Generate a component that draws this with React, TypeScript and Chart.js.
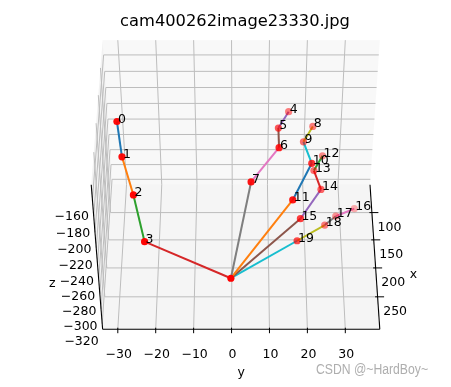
import React, { useEffect, useRef } from "react";
import { Chart, registerables } from "chart.js";

Chart.register(...registerables);

// ---------- data ----------
const TITLE = "cam400262image23330.jpg";
const WATERMARK = "CSDN @~HardBoy~";

// 21 hand keypoints (index 20 = wrist)
const kpX = [158.6, 189.3, 225.6, 267.7, 77.3, 116.2, 165.5, 206.5, 90.6, 112.6, 171.3, 219.1, 109.4, 138.5, 163.2, 212.5, 134.4, 156.7, 180.0, 224.5, 302.3];
const kpY = [-29.5, -28.2, -25.2, -22.3, 15.3, 12.4, 12.4, 5.1, 21.8, 19.2, 21.0, 15.9, 24.5, 22.0, 23.8, 18.1, 33.5, 28.2, 25.0, 17.3, -0.1];
const kpZ = [-168.2, -190.3, -211.9, -239.9, -210.6, -204.9, -195.5, -209.4, -220.2, -224.7, -211.0, -222.9, -244.9, -243.4, -250.1, -251.9, -296.6, -290.2, -284.6, -271.7, -260.4];
const kpLabels = ["0", "1", "2", "3", "4", "5", "6", "7", "8", "9", "10", "11", "12", "13", "14", "15", "16", "17", "18", "19"];

const bones = [
  [0, 1], [1, 2], [2, 3], [3, 20],
  [4, 5], [5, 6], [6, 7], [7, 20],
  [8, 9], [9, 10], [10, 11], [11, 20],
  [12, 13], [13, 14], [14, 15], [15, 20],
  [16, 17], [17, 18], [18, 19], [19, 20],
];
const tab10 = ["#1f77b4", "#ff7f0e", "#2ca02c", "#d62728", "#9467bd", "#8c564b", "#e377c2", "#7f7f7f", "#bcbd22", "#17becf"];

const xTicks = [100, 150, 200, 250];
const yTicks = [-30, -20, -10, 0, 10, 20, 30];
const zTicks = [-320, -300, -280, -260, -240, -220, -200, -180, -160];

const xLim = [47.4, 304.4];
const yLim = [-34.0, 39.1];
const zLim = [-327.4, -142.3];

// ---------- view (camera) ----------
const W = 451;
const H = 387;
const ELEV = (45 * Math.PI) / 180;
const BOX = [1, 1.352, 1];
const DIST = 18.6;
const FOCAL = 1941;
const CX = 241.5;
const CY = 184.5;

function project(x: number, y: number, z: number) {
  const X = ((x - (xLim[0] + xLim[1]) / 2) / ((xLim[1] - xLim[0]) / 2)) * BOX[0];
  const Y = ((y - (yLim[0] + yLim[1]) / 2) / ((yLim[1] - yLim[0]) / 2)) * BOX[1];
  const Z = ((z - (zLim[0] + zLim[1]) / 2) / ((zLim[1] - zLim[0]) / 2)) * BOX[2];
  const ce = Math.cos(ELEV);
  const se = Math.sin(ELEV);
  const depth = DIST - (X * ce + Z * se);
  const up = -X * se + Z * ce;
  return { u: CX + (FOCAL * Y) / depth, v: CY - (FOCAL * up) / depth, d: depth };
}

const FONT = "'DejaVu Sans', 'Liberation Sans', sans-serif";

const box3dPlugin = {
  id: "box3d",
  beforeDatasetsDraw(chart: any) {
    const ctx = chart.ctx as CanvasRenderingContext2D;
    const sx = chart.scales.x;
    const sy = chart.scales.y;
    const P = (x: number, y: number, z: number) => {
      const p = project(x, y, z);
      return [sx.getPixelForValue(p.u), sy.getPixelForValue(p.v)];
    };
    const [x0, x1] = xLim;
    const [y0, y1] = yLim;
    const [z0, z1] = zLim;
    ctx.save();
    const poly = (pts: number[][], fill: string) => {
      ctx.beginPath();
      pts.forEach((p, i) => (i ? ctx.lineTo(p[0], p[1]) : ctx.moveTo(p[0], p[1])));
      ctx.closePath();
      ctx.fillStyle = fill;
      ctx.fill();
    };
    // panes
    poly([P(x0, y0, z0), P(x0, y1, z0), P(x0, y1, z1), P(x0, y0, z1)], "rgba(242,242,242,0.5)");
    poly([P(x0, y0, z0), P(x1, y0, z0), P(x1, y0, z1), P(x0, y0, z1)], "rgba(230,230,230,0.5)");
    poly([P(x0, y0, z0), P(x1, y0, z0), P(x1, y1, z0), P(x0, y1, z0)], "rgba(236,236,236,0.5)");

    const seg = (a: number[], b: number[]) => {
      ctx.beginPath();
      ctx.moveTo(a[0], a[1]);
      ctx.lineTo(b[0], b[1]);
      ctx.stroke();
    };
    // grid
    ctx.strokeStyle = "#bdbdbd";
    ctx.lineWidth = 1;
    yTicks.forEach((t) => {
      seg(P(x0, t, z0), P(x0, t, z1));
      seg(P(x0, t, z0), P(x1, t, z0));
    });
    xTicks.forEach((t) => {
      seg(P(t, y0, z0), P(t, y1, z0));
      seg(P(t, y0, z0), P(t, y0, z1));
    });
    zTicks.forEach((t) => {
      seg(P(x0, y0, t), P(x0, y1, t));
      seg(P(x0, y0, t), P(x1, y0, t));
    });

    // axis lines
    ctx.strokeStyle = "#000";
    ctx.lineWidth = 1.1;
    seg(P(x0, y1, z0), P(x1, y1, z0)); // x
    seg(P(x1, y0, z0), P(x1, y1, z0)); // y
    seg(P(x1, y0, z0), P(x1, y0, z1)); // z

    // tick marks + labels
    ctx.fillStyle = "#000";
    ctx.font = `12.5px ${FONT}`;
    ctx.textBaseline = "middle";
    ctx.lineWidth = 1;
    ctx.textAlign = "center";
    yTicks.forEach((t) => {
      const p = P(x1, t, z0);
      seg([p[0], p[1] - 1.5], [p[0], p[1] + 4]);
      ctx.fillText(String(t).replace("-", "\u2212"), p[0] + 1, p[1] + 26);
    });
    xTicks.forEach((t) => {
      const p = P(t, y1, z0);
      seg([p[0] - 2.5, p[1]], [p[0] + 6.5, p[1]]);
      ctx.fillText(String(t), p[0] + 17.5, p[1] + 15);
    });
    ctx.textAlign = "right";
    zTicks.forEach((t) => {
      const p = P(x1, y0, t);
      ctx.fillText(String(t).replace("-", "\u2212"), p[0] - 3.5, p[1] + 17.5);
    });

    // axis titles
    ctx.textAlign = "center";
    const xm = P((x0 + x1) / 2, y1, z0);
    ctx.fillText("x", xm[0] + 38.6, xm[1] + 20.4);
    const ym = P(x1, (y0 + y1) / 2, z0);
    ctx.fillText("y", ym[0], ym[1] + 44);
    const zm = P(x1, y0, (z0 + z1) / 2);
    ctx.fillText("z", zm[0] - 44.8, zm[1] + 23.8);

    // title
    ctx.font = `16.3px ${FONT}`;
    ctx.textBaseline = "alphabetic";
    ctx.fillText(TITLE, 235, 26);
    ctx.restore();
  },
  afterDatasetsDraw(chart: any) {
    const ctx = chart.ctx as CanvasRenderingContext2D;
    const sx = chart.scales.x;
    const sy = chart.scales.y;
    ctx.save();
    ctx.fillStyle = "#000";
    ctx.font = `12.5px ${FONT}`;
    ctx.textAlign = "left";
    ctx.textBaseline = "alphabetic";
    kpLabels.forEach((lab, i) => {
      const p = project(kpX[i], kpY[i], kpZ[i]);
      ctx.fillText(lab, sx.getPixelForValue(p.u) + 1, sy.getPixelForValue(p.v) + 1);
    });
    // watermark
    ctx.fillStyle = "rgba(160,160,160,0.85)";
    ctx.font = "14px 'Liberation Sans', sans-serif";
    ctx.fillText(WATERMARK, 316, 374, 112);
    ctx.restore();
  },
};

export default function App() {
  const canvasRef = useRef<HTMLCanvasElement | null>(null);

  useEffect(() => {
    document.body.style.margin = "0";
    const canvas = canvasRef.current;
    if (!canvas) return;

    const proj = kpX.map((_, i) => project(kpX[i], kpY[i], kpZ[i]));
    const depths = proj.map((p) => p.d);
    const dMin = Math.min(...depths);
    const dMax = Math.max(...depths);
    const pointColors = depths.map((d) => {
      const a = 1 - (0.7 * (d - dMin)) / (dMax - dMin || 1);
      return `rgba(255,0,0,${a.toFixed(3)})`;
    });

    const lineSets = bones.map(([a, b], i) => ({
      label: `bone${i}`,
      data: [
        { x: proj[a].u, y: proj[a].v },
        { x: proj[b].u, y: proj[b].v },
      ],
      showLine: true,
      borderColor: tab10[i % 10],
      borderWidth: 2,
      pointRadius: 0,
      order: 1,
    }));

    const chart = new Chart(canvas, {
      type: "scatter",
      data: {
        datasets: [
          {
            label: "keypoints",
            data: proj.map((p) => ({ x: p.u, y: p.v })),
            pointRadius: 3.6,
            pointBackgroundColor: pointColors,
            pointBorderWidth: 0,
            showLine: false,
            order: 0,
          } as any,
          ...lineSets,
        ],
      },
      options: {
        responsive: false,
        animation: false,
        events: [],
        layout: { padding: 0 },
        scales: {
          x: { type: "linear", min: 0, max: W, display: false },
          y: { type: "linear", min: 0, max: H, reverse: true, display: false },
        },
        plugins: {
          legend: { display: false },
          tooltip: { enabled: false },
          title: { display: false },
        },
      },
      plugins: [box3dPlugin],
    });
    return () => chart.destroy();
  }, []);

  return (
    <div style={{ width: W, height: H, background: "#fff" }}>
      <canvas ref={canvasRef} width={W} height={H} style={{ display: "block" }} />
    </div>
  );
}
